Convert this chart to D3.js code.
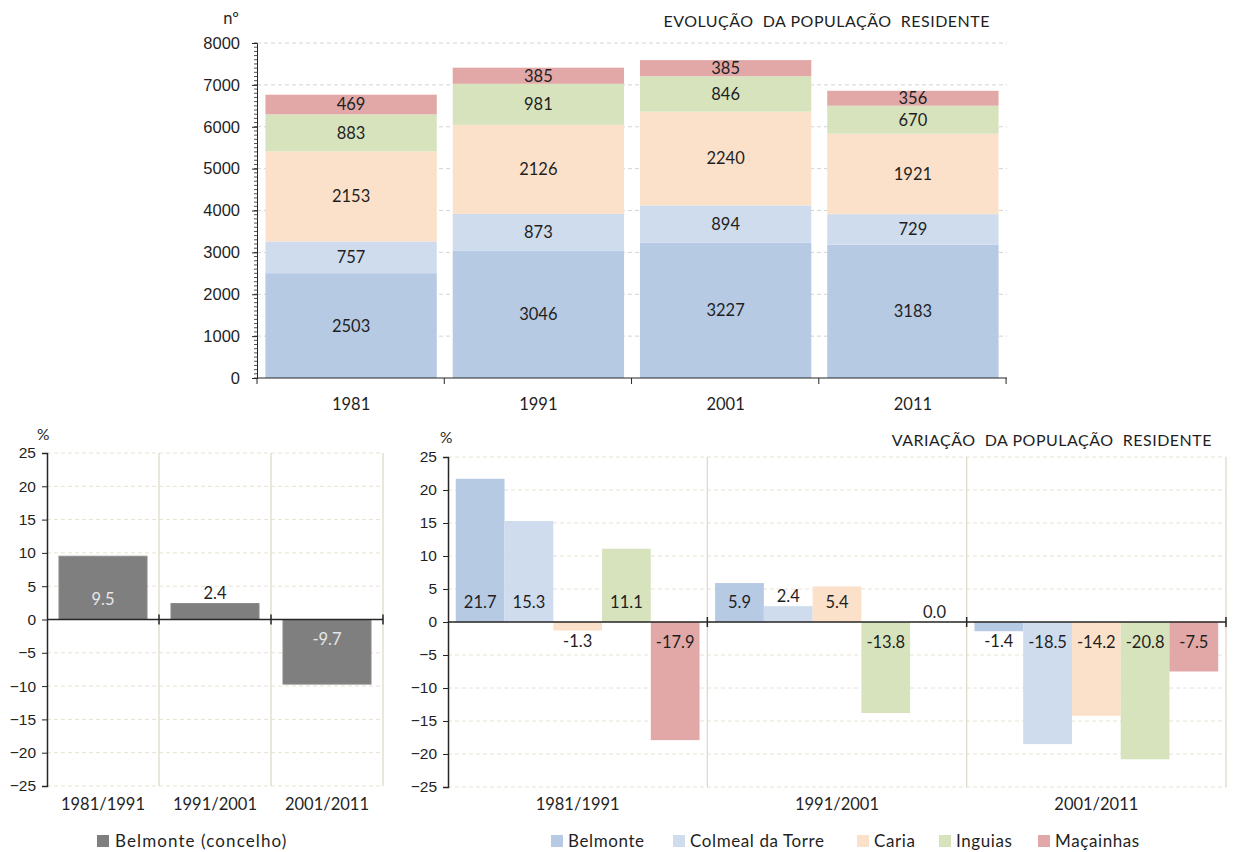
<!DOCTYPE html>
<html>
<head>
<meta charset="utf-8">
<script src="https://cdn.jsdelivr.net/npm/d3@7"></script>
<style>
  html, body { margin: 0; padding: 0; background: #fff; }
  svg { display: block; font-family: Lato, "Open Sans", sans-serif; }
</style>
</head>
<body>
<svg id="chart" width="1235" height="852"></svg>
<script>
// ---- Data -------------------------------------------------------------
const years = ["1981", "1991", "2001", "2011"];
const places = ["Belmonte", "Colmeal da Torre", "Caria", "Inguias", "Maçainhas"];
const placeColors = ["#b6cae3", "#cfdcee", "#fce1ca", "#d7e3bd", "#e1a8a7"];

// resident population per parish and census year
const popBelmonte  = [2503, 3046, 3227, 3183];
const popColmeal   = [757, 873, 894, 729];
const popCaria     = [2153, 2126, 2240, 1921];
const popInguias   = [883, 981, 846, 670];
const popMacainhas = [469, 385, 385, 356];

const periods = ["1981/1991", "1991/2001", "2001/2011"];

// % change for the whole municipality
const varConcelho = [9.5, 2.4, -9.7];

// % change per parish and period
const varBelmonte  = [21.7, 5.9, -1.4];
const varColmeal   = [15.3, 2.4, -18.5];
const varCaria     = [-1.3, 5.4, -14.2];
const varInguias   = [11.1, -13.8, -20.8];
const varMacainhas = [-17.9, 0.0, -7.5];

const popTicks = [0, 1000, 2000, 3000, 4000, 5000, 6000, 7000, 8000];
const varTicks = [25, 20, 15, 10, 5, 0, -5, -10, -15, -20, -25];

// ---- Shared styling ---------------------------------------------------
const svg = d3.select("#chart");
const TEXT = "#1f1f1f";
const AXIS = "#262626";
const FS = 16.5;

// ---- Top: stacked population bars -------------------------------------
(function () {
  const left = 257, right = 1007, top = 43, bottom = 378;
  const popSeries = [popBelmonte, popColmeal, popCaria, popInguias, popMacainhas];
  const rows = years.map((y, i) => {
    const r = { year: y };
    places.forEach((p, k) => r[p] = popSeries[k][i]);
    return r;
  });

  const x = d3.scaleBand().domain(years).range([left, right])
    .paddingInner(0.085).paddingOuter(0.045);
  const y = d3.scaleLinear().domain([0, 8000]).range([bottom, top]);

  const g = svg.append("g");

  // dashed gridlines
  g.append("g").selectAll("line").data(popTicks.filter(t => t > 0)).join("line")
    .attr("x1", left).attr("x2", right)
    .attr("y1", d => y(d)).attr("y2", d => y(d))
    .attr("stroke", "#d4d4d4").attr("stroke-dasharray", "4,3");

  const stack = d3.stack().keys(places)(rows);
  const layers = g.append("g").selectAll("g").data(stack).join("g")
    .attr("fill", (d, i) => placeColors[i]);
  layers.selectAll("rect").data(d => d).join("rect")
    .attr("x", d => x(d.data.year))
    .attr("width", x.bandwidth())
    .attr("y", d => y(d[1]))
    .attr("height", d => y(d[0]) - y(d[1]));

  // value labels inside each segment
  stack.forEach(layer => {
    g.append("g").selectAll("text").data(layer).join("text")
      .attr("x", d => x(d.data.year) + x.bandwidth() / 2)
      .attr("y", d => (y(d[0]) + y(d[1])) / 2)
      .attr("dy", "0.36em")
      .attr("text-anchor", "middle")
      .attr("font-size", FS).attr("fill", TEXT)
      .text(d => d[1] - d[0]);
  });

  // y axis with minor ticks
  const yAxis = d3.axisLeft(y).tickValues(popTicks).tickFormat(d3.format("d"))
    .tickSize(5).tickPadding(12);
  const ya = g.append("g").attr("transform", `translate(${left},0)`).call(yAxis);
  ya.select(".domain").attr("stroke", AXIS);
  ya.selectAll(".tick line").attr("stroke", AXIS);
  ya.selectAll("text").attr("font-size", FS).attr("fill", TEXT).attr("font-family", null);
  g.append("g").selectAll("line").data(d3.range(0, 8001, 100)).join("line")
    .attr("x1", left - 3).attr("x2", left)
    .attr("y1", d => y(d)).attr("y2", d => y(d))
    .attr("stroke", AXIS).attr("stroke-width", 0.8);

  // x axis: ticks between categories
  g.append("line").attr("x1", left).attr("x2", right)
    .attr("y1", bottom).attr("y2", bottom).attr("stroke", AXIS).attr("stroke-width", 1.2);
  const step = x.step();
  g.append("g").selectAll("line").data(d3.range(years.length + 1)).join("line")
    .attr("x1", i => left + i * step).attr("x2", i => left + i * step)
    .attr("y1", bottom).attr("y2", bottom + 6).attr("stroke", AXIS);
  g.append("g").selectAll("text").data(years).join("text")
    .attr("x", d => x(d) + x.bandwidth() / 2).attr("y", 410)
    .attr("text-anchor", "middle").attr("font-size", FS).attr("fill", TEXT)
    .text(d => d);

  g.append("text").attr("x", 239).attr("y", 24).attr("text-anchor", "end")
    .attr("font-size", FS).attr("fill", TEXT).text("nº");
  g.append("text").attr("x", 990).attr("y", 27).attr("text-anchor", "end")
    .attr("font-size", 16).attr("fill", TEXT).attr("letter-spacing", 0.5)
    .attr("xml:space", "preserve")
    .text("EVOLUÇÃO  DA POPULAÇÃO  RESIDENTE");
})();

// ---- Helper for the two %-change panels -------------------------------
function variationFrame(g, left, right, top, bottom, nCats) {
  const y = d3.scaleLinear().domain([-25, 25]).range([bottom, top]);
  // dashed gridlines
  g.append("g").selectAll("line").data(varTicks).join("line")
    .attr("x1", left).attr("x2", right)
    .attr("y1", d => y(d)).attr("y2", d => y(d))
    .attr("stroke", "#e6e2d2").attr("stroke-dasharray", "4,3");
  // vertical separators between periods
  const step = (right - left) / nCats;
  g.append("g").selectAll("line").data(d3.range(1, nCats + 1)).join("line")
    .attr("x1", i => left + i * step).attr("x2", i => left + i * step)
    .attr("y1", top).attr("y2", bottom)
    .attr("stroke", "#dcd8c2").attr("stroke-width", 1.2);
  return y;
}

function variationAxes(g, y, left, right, nCats) {
  const ya = g.append("g").attr("transform", `translate(${left},0)`)
    .call(d3.axisLeft(y).tickValues(varTicks).tickSize(5).tickPadding(6));
  ya.select(".domain").attr("stroke", AXIS).attr("stroke-width", 1.5);
  ya.selectAll(".tick line").attr("stroke", AXIS);
  ya.selectAll("text").attr("font-size", 15.5).attr("fill", TEXT).attr("font-family", null);
  const y0 = y(0);
  g.append("line").attr("x1", left).attr("x2", right)
    .attr("y1", y0).attr("y2", y0).attr("stroke", AXIS).attr("stroke-width", 1.5);
  const step = (right - left) / nCats;
  g.append("g").selectAll("line").data(d3.range(1, nCats + 1)).join("line")
    .attr("x1", i => left + i * step).attr("x2", i => left + i * step)
    .attr("y1", y0 - 5).attr("y2", y0 + 5).attr("stroke", AXIS).attr("stroke-width", 1.5);
}

// label placement: inside near the base, or just beyond a short bar
function labelY(y, v) {
  const y0 = y(0), h = Math.abs(y(v) - y0);
  if (h < 24) return v >= 0 ? y(v) - 10 : y(v) + 10;
  return v >= 0 ? y0 - 20 : y0 + 20;
}

// ---- Bottom left: municipality change ---------------------------------
(function () {
  const left = 47, right = 383, top = 453, bottom = 786;
  const g = svg.append("g");
  const y = variationFrame(g, left, right, top, bottom, periods.length);
  const x = d3.scaleBand().domain(periods).range([left, right])
    .paddingInner(0.214).paddingOuter(0.107);

  g.append("g").selectAll("rect").data(varConcelho).join("rect")
    .attr("x", (d, i) => x(periods[i])).attr("width", x.bandwidth())
    .attr("y", d => y(Math.max(0, d))).attr("height", d => Math.abs(y(d) - y(0)))
    .attr("fill", "#7f7f7f").attr("stroke", "#8c8c8c");

  variationAxes(g, y, left, right, periods.length);

  g.append("g").selectAll("text").data(varConcelho).join("text")
    .attr("x", (d, i) => x(periods[i]) + x.bandwidth() / 2)
    .attr("y", d => labelY(y, d)).attr("dy", "0.36em")
    .attr("text-anchor", "middle").attr("font-size", FS)
    .attr("fill", d => Math.abs(y(d) - y(0)) < 24 ? TEXT : "#e6e6e6")
    .text(d => d.toFixed(1));

  g.append("g").selectAll("text").data(periods).join("text")
    .attr("x", d => x(d) + x.bandwidth() / 2).attr("y", 810)
    .attr("text-anchor", "middle").attr("font-size", FS).attr("fill", TEXT)
    .text(d => d);

  g.append("text").attr("x", 37).attr("y", 440)
    .attr("font-size", 15.5).attr("fill", TEXT).text("%");

  // legend
  g.append("rect").attr("x", 97).attr("y", 835).attr("width", 12).attr("height", 12)
    .attr("fill", "#7f7f7f");
  g.append("text").attr("x", 115).attr("y", 847).attr("font-size", 17)
    .attr("letter-spacing", 1.1).attr("fill", TEXT).text("Belmonte (concelho)");
})();

// ---- Bottom right: change per parish ----------------------------------
(function () {
  const left = 448, right = 1226, top = 457, bottom = 787;
  const g = svg.append("g");
  const y = variationFrame(g, left, right, top, bottom, periods.length);
  const x0 = d3.scaleBand().domain(periods).range([left, right])
    .paddingInner(0.06).paddingOuter(0.03);
  const x1 = d3.scaleBand().domain(places).range([0, x0.bandwidth()]).padding(0);

  const varSeries = [varBelmonte, varColmeal, varCaria, varInguias, varMacainhas];
  const cells = [];
  periods.forEach((p, i) => places.forEach((s, k) =>
    cells.push({ period: p, place: s, k: k, v: varSeries[k][i] })));

  g.append("g").selectAll("rect").data(cells).join("rect")
    .attr("x", d => x0(d.period) + x1(d.place)).attr("width", x1.bandwidth())
    .attr("y", d => y(Math.max(0, d.v))).attr("height", d => Math.abs(y(d.v) - y(0)))
    .attr("fill", d => placeColors[d.k]);

  variationAxes(g, y, left, right, periods.length);

  g.append("g").selectAll("text").data(cells).join("text")
    .attr("x", d => x0(d.period) + x1(d.place) + x1.bandwidth() / 2)
    .attr("y", d => labelY(y, d.v)).attr("dy", "0.36em")
    .attr("text-anchor", "middle").attr("font-size", FS).attr("fill", TEXT)
    .text(d => d.v.toFixed(1));

  g.append("g").selectAll("text").data(periods).join("text")
    .attr("x", d => x0(d) + x0.bandwidth() / 2).attr("y", 810)
    .attr("text-anchor", "middle").attr("font-size", FS).attr("fill", TEXT)
    .text(d => d);

  g.append("text").attr("x", 440).attr("y", 443)
    .attr("font-size", 15.5).attr("fill", TEXT).text("%");
  g.append("text").attr("x", 1212).attr("y", 446).attr("text-anchor", "end")
    .attr("font-size", 16).attr("fill", TEXT).attr("letter-spacing", 0.5)
    .attr("xml:space", "preserve")
    .text("VARIAÇÃO  DA POPULAÇÃO  RESIDENTE");

  // legend
  const legendX = [551, 673, 857, 939, 1038];
  const lg = g.append("g").selectAll("g").data(places).join("g")
    .attr("transform", (d, i) => `translate(${legendX[i]},835)`);
  lg.append("rect").attr("width", 12).attr("height", 12)
    .attr("fill", (d, i) => placeColors[i]);
  lg.append("text").attr("x", 17).attr("y", 12).attr("font-size", 17)
    .attr("letter-spacing", 0.6).attr("fill", TEXT).text(d => d);
})();
</script>
</body>
</html>
